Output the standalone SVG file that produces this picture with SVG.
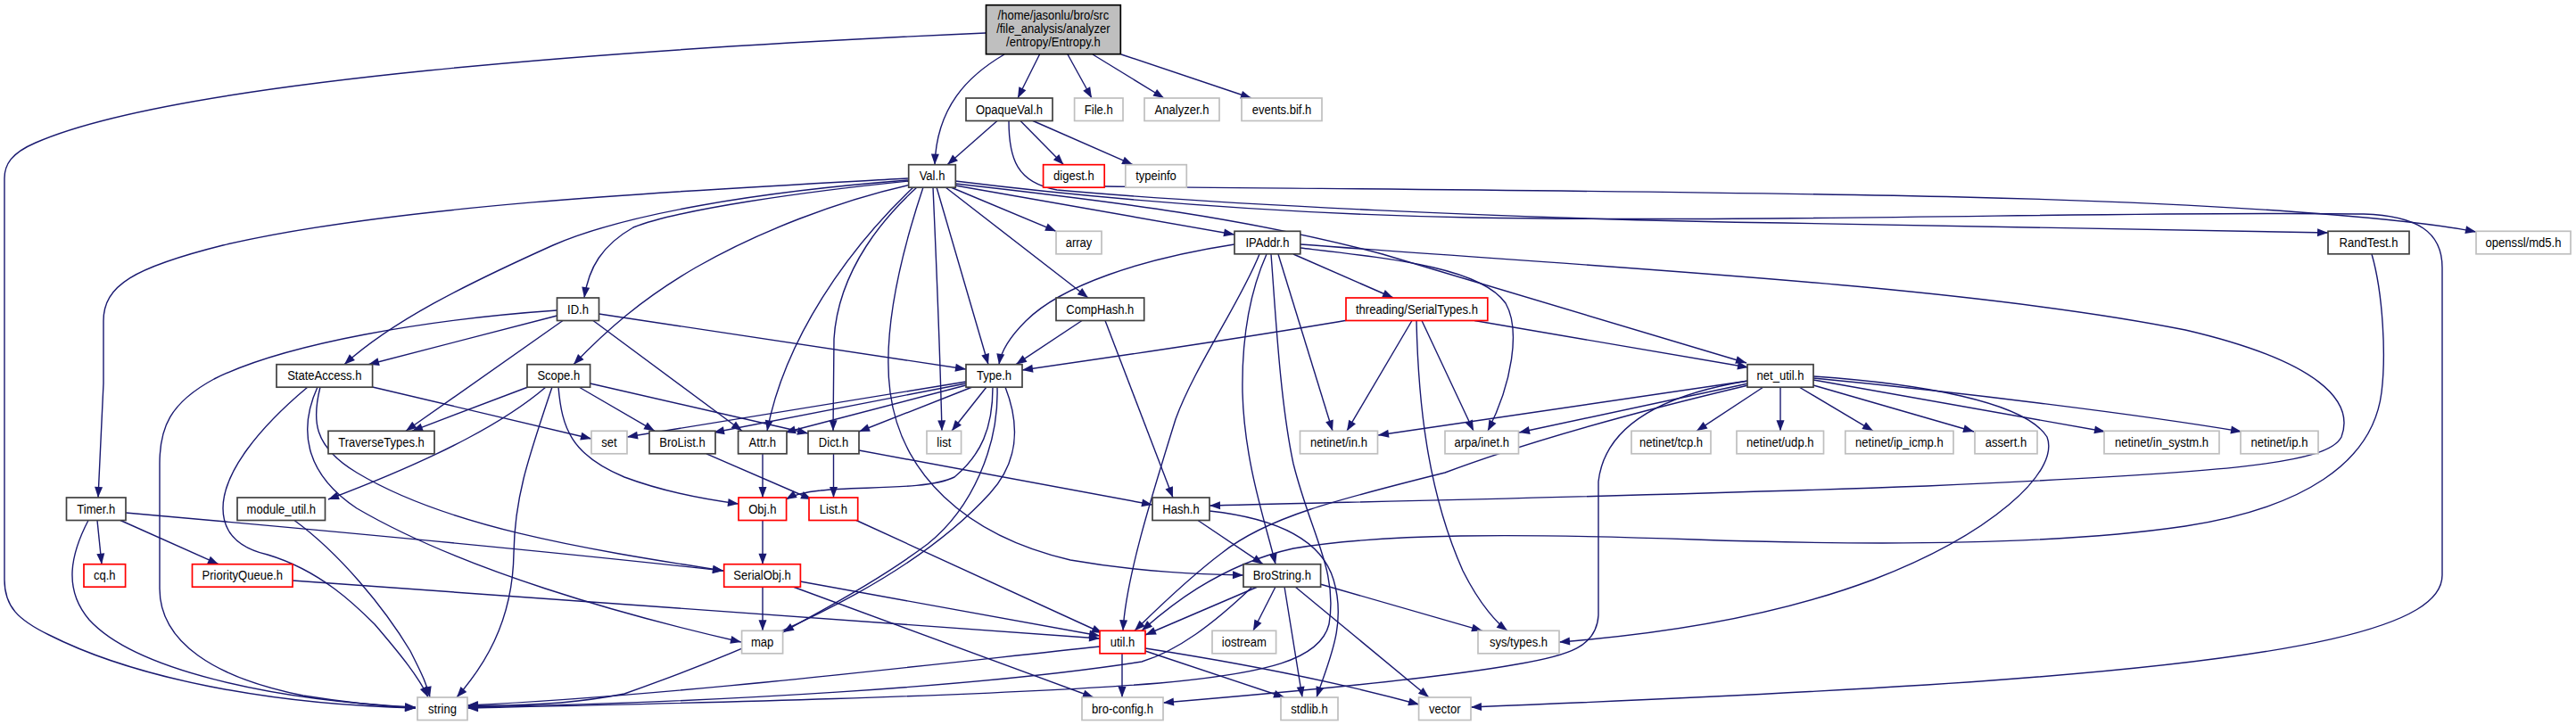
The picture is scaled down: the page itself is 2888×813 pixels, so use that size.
<svg xmlns="http://www.w3.org/2000/svg" width="2888" height="813" viewBox="0 0 2888 813">
<defs>
<style>
.e{fill:none;stroke:#191970;stroke-width:1.4;marker-end:url(#ah)}
.b rect{fill:#fff;stroke:#404040;stroke-width:1.7}
.g rect{fill:#fff;stroke:#bfbfbf;stroke-width:1.7}
.r rect{fill:#fff;stroke:#ff0000;stroke-width:1.7}
text{font-family:"Liberation Sans",Arial,Helvetica,sans-serif;font-size:14.5px;text-anchor:middle;fill:#000}
</style>
<marker id="ah" markerUnits="userSpaceOnUse" markerWidth="13" markerHeight="11" refX="12" refY="5" orient="auto" overflow="visible"><path d="M0,0.5L12,5L0,9.5z" fill="#191970"/></marker>
</defs>
<rect width="2888" height="813" fill="#fff"/>
<g id="connectors">
<path class="e" d="M1105,37 C700,55 200,90 40,160 C12,172 5,185 5,200 L5,650 C5,680 20,695 55,712 C150,760 300,790 466,794"/>
<path class="e" d="M1126,61 C1085,85 1050,120 1048,184.7"/>
<path class="e" d="M1165.5,61 L1141,110"/>
<path class="e" d="M1197,61 L1224,110"/>
<path class="e" d="M1225,61 L1305,110"/>
<path class="e" d="M1257,61 L1403,110"/>
<path class="e" d="M1118,135.5 L1062,184.7"/>
<path class="e" d="M1144,135.5 L1192.5,184.7"/>
<path class="e" d="M1158,135.5 L1270,184.7"/>
<path class="e" d="M1131,135.5 C1131,178 1140,205 1185,213 C1350,228 1700,246 2000,250 C2300,254 2500,258 2610,261"/>
<path class="e" d="M1238,209 C1500,212 1900,214 2200,221 C2500,228 2700,245 2776,260"/>
<path class="e" d="M1071,203 C1250,225 1450,240 1650,244 C2000,250 2400,236 2650,240 C2710,242 2738,260 2738,300 L2738,645 C2738,700 2600,740 2160,768 C1950,781 1750,789 1649,793"/>
<path class="e" d="M1071,206 C1250,226 1400,245 1550,285 L1958,407"/>
<path class="e" d="M1071,208 L1384,263"/>
<path class="e" d="M1066,210 L1184,259.3"/>
<path class="e" d="M1060,210 L1220,334"/>
<path class="e" d="M1050,210 L1108,408.7"/>
<path class="e" d="M1046,210 C1050,300 1054,400 1056,483.3"/>
<path class="e" d="M1035,210 C1005,300 990,380 998,440 C1010,530 1080,600 1200,628 C1280,642 1350,644 1394,645"/>
<path class="e" d="M1028,210 C995,240 940,300 935,380 L934,483.3"/>
<path class="e" d="M1024,210 C950,280 880,380 860,483.3"/>
<path class="e" d="M1021,207 C940,225 850,260 780,300 C720,335 680,370 643,408.7"/>
<path class="e" d="M1019,203 C900,215 760,235 710,255 C675,275 660,300 655,334"/>
<path class="e" d="M1019,202 C850,215 700,240 620,275 C520,320 440,360 386,408.7"/>
<path class="e" d="M1019,200 C800,212 450,228 250,275 C150,300 116,320 116,360 L116,430 L110,558"/>
<path class="e" d="M1384,274 C1280,290 1190,320 1150,360 C1130,380 1122,395 1120,408.7"/>
<path class="e" d="M1450,285 L1562,334"/>
<path class="e" d="M1412,285 C1390,340 1340,410 1318,470 C1290,560 1262,650 1259,707.3"/>
<path class="e" d="M1420,285 C1400,330 1392,380 1393,440 C1395,520 1420,590 1430,632.7"/>
<path class="e" d="M1425,285 C1430,350 1435,450 1450,520 C1470,600 1500,640 1490,700 C1480,740 1420,755 1300,766 C1100,782 700,790 524,794"/>
<path class="e" d="M1433,285 L1494,483.3"/>
<path class="e" d="M1458,278 C1560,290 1660,300 1688,340 C1705,370 1695,430 1668,483.3"/>
<path class="e" d="M1458,274 C1800,300 2200,320 2450,370 C2600,405 2640,450 2625,490 C2610,520 2500,530 2160,545 C1800,558 1500,563 1356,567"/>
<path class="e" d="M1511,359 C1400,378 1250,400 1146,415"/>
<path class="e" d="M1653,359.5 L1960,412"/>
<path class="e" d="M1583,359.5 L1510,483.3"/>
<path class="e" d="M1588,359.5 C1590,450 1600,550 1640,640 C1660,680 1680,700 1690,707.3"/>
<path class="e" d="M1594,359.5 L1652,483.3"/>
<path class="e" d="M1213,359.5 L1139,408.7"/>
<path class="e" d="M1239,359.5 L1315,558"/>
<path class="e" d="M2659,285 C2672,330 2675,400 2670,440 C2660,520 2580,570 2450,590 C2300,612 2100,612 1900,605 C1700,598 1550,598 1450,615 C1360,635 1300,690 1280,707.3"/>
<path class="e" d="M1960,432 C1800,470 1700,500 1620,530 C1500,560 1420,580 1370,620 C1330,650 1290,690 1272,707.3"/>
<path class="e" d="M1960,427 C1880,440 1800,470 1792,540 L1792,690 C1790,725 1760,735 1700,745 C1600,763 1400,780 1304,788"/>
<path class="e" d="M1960,427 L1545,488"/>
<path class="e" d="M1960,430 L1703,485"/>
<path class="e" d="M1977,434 L1902,483.3"/>
<path class="e" d="M1996,434 L1996,483.3"/>
<path class="e" d="M2017,434 L2100,483.3"/>
<path class="e" d="M2033,432 L2213,484"/>
<path class="e" d="M2033,426 L2360,484"/>
<path class="e" d="M2033,424 C2200,440 2400,465 2513,484"/>
<path class="e" d="M2033,422 C2150,430 2270,450 2295,490 C2310,530 2230,600 2100,650 C1980,695 1850,712 1748,720"/>
<path class="e" d="M1410,658 L1284,712"/>
<path class="e" d="M1430,658 L1405,707.3"/>
<path class="e" d="M1440,658 L1460,782"/>
<path class="e" d="M1452,658 L1602,782"/>
<path class="e" d="M1480,655 L1662,707.3"/>
<path class="e" d="M1404,658 C1360,700 1320,730 1280,742 C1100,770 800,788 524,793"/>
<path class="e" d="M1343,583.5 L1416,632.7"/>
<path class="e" d="M1356,573 C1420,580 1480,600 1495,650 C1510,700 1490,740 1476,782"/>
<path class="e" d="M963,505 L1292,566"/>
<path class="e" d="M934.5,508.8 L934.5,558"/>
<path class="e" d="M855,508.8 L855,558"/>
<path class="e" d="M792,508.8 L910,560"/>
<path class="e" d="M855,583.5 L855,632.7"/>
<path class="e" d="M960,583.5 L1236,710"/>
<path class="e" d="M897,652 L1233,713"/>
<path class="e" d="M855,658.2 L855,707.3"/>
<path class="e" d="M889,658 L1226,782"/>
<path class="e" d="M1258,732.8 L1258,782"/>
<path class="e" d="M1284,730 L1440,782"/>
<path class="e" d="M1284,727 C1400,745 1500,765 1591,790"/>
<path class="e" d="M1233,725 C1000,750 750,780 524,791"/>
<path class="e" d="M1083,428 L703,490"/>
<path class="e" d="M1083,430 L800,485"/>
<path class="e" d="M1083,432 L880,485"/>
<path class="e" d="M1090,434 L963,484"/>
<path class="e" d="M1106,434 L1067,483.3"/>
<path class="e" d="M1113,434 C1113,480 1100,510 1070,535 C1040,550 960,545 920,550 C900,552 890,555 881,560"/>
<path class="e" d="M1118,434 C1120,500 1090,570 1040,610 C980,655 910,690 878,709"/>
<path class="e" d="M1127,434 C1145,480 1140,520 1110,553 C1040,630 920,700 700,778 C640,790 580,792 524,791"/>
<path class="e" d="M671.5,352 L1083,414"/>
<path class="e" d="M665,359.5 L832,483.3"/>
<path class="e" d="M631,359.5 L455,483.3"/>
<path class="e" d="M624.5,354 L413,408.7"/>
<path class="e" d="M624.5,348 C480,358 320,385 240,425 C190,452 179,480 179,520 L179,660 C179,720 240,760 340,780 C390,788 430,792 466,794"/>
<path class="e" d="M345,434 C290,480 250,530 250,570 C250,600 270,615 300,622 C360,640 400,680 420,700 C450,735 470,760 480,782"/>
<path class="e" d="M359,434 C350,470 350,500 400,530 C500,590 650,615 811,640"/>
<path class="e" d="M356,434 C335,480 340,530 400,570 C520,640 700,690 831,720"/>
<path class="e" d="M417.6,434 L663,492"/>
<path class="e" d="M592,434 L462,483.3"/>
<path class="e" d="M612,434 C570,470 500,510 368,560"/>
<path class="e" d="M619,434 C590,520 577,560 576,620 C575,700 540,750 512,782"/>
<path class="e" d="M626,434 C630,480 640,510 700,535 C740,550 790,560 828,565"/>
<path class="e" d="M649,434 L734,483.3"/>
<path class="e" d="M661.6,430 L906,486"/>
<path class="e" d="M109,583.5 L114,632.7"/>
<path class="e" d="M135,583.5 L245,632.7"/>
<path class="e" d="M99,583.5 C80,620 70,660 100,695 C150,750 300,785 466,793"/>
<path class="e" d="M141,575 C400,598 650,622 811,640"/>
<path class="e" d="M328,651 C600,670 900,690 1233,716"/>
<path class="e" d="M330,583.5 C380,620 430,680 460,730 C470,750 478,765 482,782"/>
</g>
<g id="entropy"><rect x="1105.5" y="5.7" width="150.8" height="55" style="fill:#bfbfbf;stroke:#000;stroke-width:1.7"/><text transform="translate(1180.9 21.5) scale(0.9 1)">/home/jasonlu/bro/src</text><text transform="translate(1180.9 36.5) scale(0.9 1)">/file_analysis/analyzer</text><text transform="translate(1180.9 51.5) scale(0.9 1)">/entropy/Entropy.h</text></g>
<g id="opaqueval" class="b"><rect x="1083" y="110" width="97" height="25.5"/><text transform="translate(1131.5 127.5) scale(0.9 1)">OpaqueVal.h</text></g>
<g id="file" class="g"><rect x="1204.6" y="110" width="54.4" height="25.5"/><text transform="translate(1231.8 127.5) scale(0.9 1)">File.h</text></g>
<g id="analyzer" class="g"><rect x="1283" y="110" width="84" height="25.5"/><text transform="translate(1325 127.5) scale(0.9 1)">Analyzer.h</text></g>
<g id="events" class="g"><rect x="1392" y="110" width="90" height="25.5"/><text transform="translate(1437 127.5) scale(0.9 1)">events.bif.h</text></g>
<g id="val" class="b"><rect x="1018.7" y="184.7" width="52.6" height="25.5"/><text transform="translate(1045 202.2) scale(0.9 1)">Val.h</text></g>
<g id="digest" class="r"><rect x="1169.6" y="184.7" width="68.6" height="25.5"/><text transform="translate(1203.9 202.2) scale(0.9 1)">digest.h</text></g>
<g id="typeinfo" class="g"><rect x="1261.8" y="184.7" width="68.5" height="25.5"/><text transform="translate(1296 202.2) scale(0.9 1)">typeinfo</text></g>
<g id="array" class="g"><rect x="1184" y="259.3" width="51" height="25.5"/><text transform="translate(1209.5 276.8) scale(0.9 1)">array</text></g>
<g id="ipaddr" class="b"><rect x="1384" y="259.3" width="73.8" height="25.5"/><text transform="translate(1420.9 276.8) scale(0.9 1)">IPAddr.h</text></g>
<g id="randtest" class="b"><rect x="2610" y="259.3" width="91" height="25.5"/><text transform="translate(2655.5 276.8) scale(0.9 1)">RandTest.h</text></g>
<g id="md5" class="g"><rect x="2776" y="259.3" width="106" height="25.5"/><text transform="translate(2829 276.8) scale(0.9 1)">openssl/md5.h</text></g>
<g id="id" class="b"><rect x="624.5" y="334" width="47" height="25.5"/><text transform="translate(648 351.5) scale(0.9 1)">ID.h</text></g>
<g id="comphash" class="b"><rect x="1184" y="334" width="98.7" height="25.5"/><text transform="translate(1233.3 351.5) scale(0.9 1)">CompHash.h</text></g>
<g id="serialtypes" class="r"><rect x="1509" y="334" width="158.8" height="25.5"/><text transform="translate(1588.4 351.5) scale(0.9 1)">threading/SerialTypes.h</text></g>
<g id="stateaccess" class="b"><rect x="310" y="408.7" width="107.6" height="25.5"/><text transform="translate(363.8 426.2) scale(0.9 1)">StateAccess.h</text></g>
<g id="scope" class="b"><rect x="591" y="408.7" width="70.6" height="25.5"/><text transform="translate(626.3 426.2) scale(0.9 1)">Scope.h</text></g>
<g id="type" class="b"><rect x="1083" y="408.7" width="63" height="25.5"/><text transform="translate(1114.5 426.2) scale(0.9 1)">Type.h</text></g>
<g id="netutil" class="b"><rect x="1959" y="408.7" width="74" height="25.5"/><text transform="translate(1996 426.2) scale(0.9 1)">net_util.h</text></g>
<g id="traversetypes" class="b"><rect x="368" y="483.3" width="119" height="25.5"/><text transform="translate(427.5 500.8) scale(0.9 1)">TraverseTypes.h</text></g>
<g id="set" class="g"><rect x="663" y="483.3" width="40" height="25.5"/><text transform="translate(683 500.8) scale(0.9 1)">set</text></g>
<g id="brolist" class="b"><rect x="728" y="483.3" width="74" height="25.5"/><text transform="translate(765 500.8) scale(0.9 1)">BroList.h</text></g>
<g id="attr" class="b"><rect x="827.6" y="483.3" width="54.4" height="25.5"/><text transform="translate(854.8 500.8) scale(0.9 1)">Attr.h</text></g>
<g id="dict" class="b"><rect x="906" y="483.3" width="57" height="25.5"/><text transform="translate(934.5 500.8) scale(0.9 1)">Dict.h</text></g>
<g id="list" class="g"><rect x="1039" y="483.3" width="38.6" height="25.5"/><text transform="translate(1058.3 500.8) scale(0.9 1)">list</text></g>
<g id="netinet_in" class="g"><rect x="1457.5" y="483.3" width="87" height="25.5"/><text transform="translate(1501 500.8) scale(0.9 1)">netinet/in.h</text></g>
<g id="arpa_inet" class="g"><rect x="1620" y="483.3" width="82.5" height="25.5"/><text transform="translate(1661.3 500.8) scale(0.9 1)">arpa/inet.h</text></g>
<g id="netinet_tcp" class="g"><rect x="1829" y="483.3" width="89" height="25.5"/><text transform="translate(1873.5 500.8) scale(0.9 1)">netinet/tcp.h</text></g>
<g id="netinet_udp" class="g"><rect x="1947" y="483.3" width="97.5" height="25.5"/><text transform="translate(1995.8 500.8) scale(0.9 1)">netinet/udp.h</text></g>
<g id="netinet_ip_icmp" class="g"><rect x="2068.8" y="483.3" width="121.2" height="25.5"/><text transform="translate(2129.4 500.8) scale(0.9 1)">netinet/ip_icmp.h</text></g>
<g id="assert" class="g"><rect x="2214" y="483.3" width="70" height="25.5"/><text transform="translate(2249 500.8) scale(0.9 1)">assert.h</text></g>
<g id="netinet_in_systm" class="g"><rect x="2359" y="483.3" width="129" height="25.5"/><text transform="translate(2423.5 500.8) scale(0.9 1)">netinet/in_systm.h</text></g>
<g id="netinet_ip" class="g"><rect x="2512" y="483.3" width="87" height="25.5"/><text transform="translate(2555.5 500.8) scale(0.9 1)">netinet/ip.h</text></g>
<g id="timer" class="b"><rect x="74.5" y="558" width="66.5" height="25.5"/><text transform="translate(107.8 575.5) scale(0.9 1)">Timer.h</text></g>
<g id="module_util" class="b"><rect x="266" y="558" width="98.5" height="25.5"/><text transform="translate(315.3 575.5) scale(0.9 1)">module_util.h</text></g>
<g id="obj" class="r"><rect x="828" y="558" width="53.6" height="25.5"/><text transform="translate(854.8 575.5) scale(0.9 1)">Obj.h</text></g>
<g id="listh" class="r"><rect x="907" y="558" width="54.7" height="25.5"/><text transform="translate(934.4 575.5) scale(0.9 1)">List.h</text></g>
<g id="hash" class="b"><rect x="1292" y="558" width="64" height="25.5"/><text transform="translate(1324 575.5) scale(0.9 1)">Hash.h</text></g>
<g id="cq" class="r"><rect x="94" y="632.7" width="46.6" height="25.5"/><text transform="translate(117.3 650.2) scale(0.9 1)">cq.h</text></g>
<g id="priorityqueue" class="r"><rect x="215.5" y="632.7" width="112.5" height="25.5"/><text transform="translate(271.8 650.2) scale(0.9 1)">PriorityQueue.h</text></g>
<g id="serialobj" class="r"><rect x="811.7" y="632.7" width="85.7" height="25.5"/><text transform="translate(854.6 650.2) scale(0.9 1)">SerialObj.h</text></g>
<g id="brostring" class="b"><rect x="1394" y="632.7" width="86.6" height="25.5"/><text transform="translate(1437.3 650.2) scale(0.9 1)">BroString.h</text></g>
<g id="map" class="g"><rect x="831.6" y="707.3" width="46" height="25.5"/><text transform="translate(854.6 724.8) scale(0.9 1)">map</text></g>
<g id="util" class="r"><rect x="1233" y="707.3" width="51" height="25.5"/><text transform="translate(1258.5 724.8) scale(0.9 1)">util.h</text></g>
<g id="iostream" class="g"><rect x="1359" y="707.3" width="71.6" height="25.5"/><text transform="translate(1394.8 724.8) scale(0.9 1)">iostream</text></g>
<g id="sys_types" class="g"><rect x="1657" y="707.3" width="91" height="25.5"/><text transform="translate(1702.5 724.8) scale(0.9 1)">sys/types.h</text></g>
<g id="string" class="g"><rect x="468" y="782" width="56" height="25.5"/><text transform="translate(496 799.5) scale(0.9 1)">string</text></g>
<g id="bro_config" class="g"><rect x="1213" y="782" width="91" height="25.5"/><text transform="translate(1258.5 799.5) scale(0.9 1)">bro-config.h</text></g>
<g id="stdlib" class="g"><rect x="1436" y="782" width="64" height="25.5"/><text transform="translate(1468 799.5) scale(0.9 1)">stdlib.h</text></g>
<g id="vector" class="g"><rect x="1590.6" y="782" width="58.4" height="25.5"/><text transform="translate(1619.8 799.5) scale(0.9 1)">vector</text></g>
</svg>
